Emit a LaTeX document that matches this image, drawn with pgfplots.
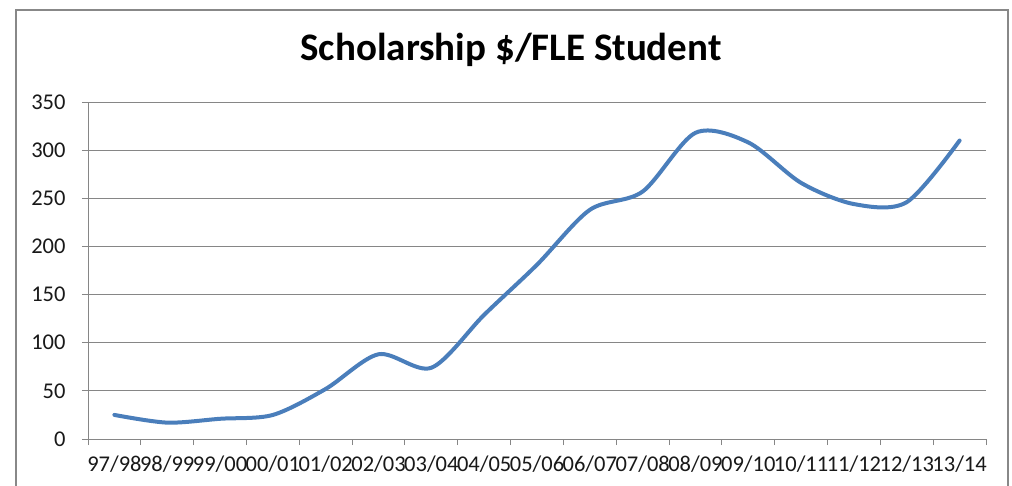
\documentclass[border=0pt]{standalone}
\usepackage{fontspec}
\setmainfont{Carlito}
\usepackage{pgfplots}
\pgfplotsset{compat=1.18}
\definecolor{SeriesBlue}{RGB}{74,126,187}
\definecolor{FrameGray}{RGB}{136,136,136}
\definecolor{GridGray}{RGB}{134,134,134}

\begin{document}
\begin{tikzpicture}[x=1pt,y=1pt]
\useasboundingbox (0,0) rectangle (1012,485);
\fill[white] (0,0) rectangle (1012,485);
% chart frame (bottom edge is outside the picture)
\draw[FrameGray,line width=2pt] (16,-5) -- (16,474.5) -- (1008,474.5) -- (1008,-5);
\node[font=\fontsize{39}{44}\selectfont\bfseries] at (511,435) {Scholarship \$/FLE Student};
\begin{axis}[
  at={(88pt,46pt)}, anchor=south west,
  scale only axis,
  width=898pt, height=337pt,
  xmin=0, xmax=17,
  ymin=0, ymax=350,
  xtick={0,...,17},
  xticklabels={97/98,98/99,99/00,00/01,01/02,02/03,03/04,04/05,05/06,06/07,07/08,08/09,09/10,10/11,11/12,12/13,13/14},
  x tick label as interval,
  ytick={0,50,...,350},
  axis lines=left,
  axis line style={-,GridGray,line width=1pt},
  tick style={GridGray,line width=1pt},
  tick align=outside,
  major tick length=6pt,
  ymajorgrids,
  grid style={GridGray,line width=1pt},
  tick label style={font=\fontsize{22.5}{26}\selectfont,black!90},
  /pgf/number format/assume math mode=true,
  yticklabel style={xshift=-13pt},
  xticklabel style={yshift=-7pt},
  clip=false,
]
\addplot[SeriesBlue,line width=4pt,smooth,line cap=round] coordinates {
  (0.5,25) (1.5,17) (2.5,21) (3.5,25) (4.5,52) (5.5,88) (6.5,74) (7.5,129)
  (8.5,181) (9.5,238) (10.5,257) (11.5,318) (12.5,308) (13.5,266)
  (14.5,244) (15.5,246) (16.5,310)
};
\end{axis}
\end{tikzpicture}
\end{document}
